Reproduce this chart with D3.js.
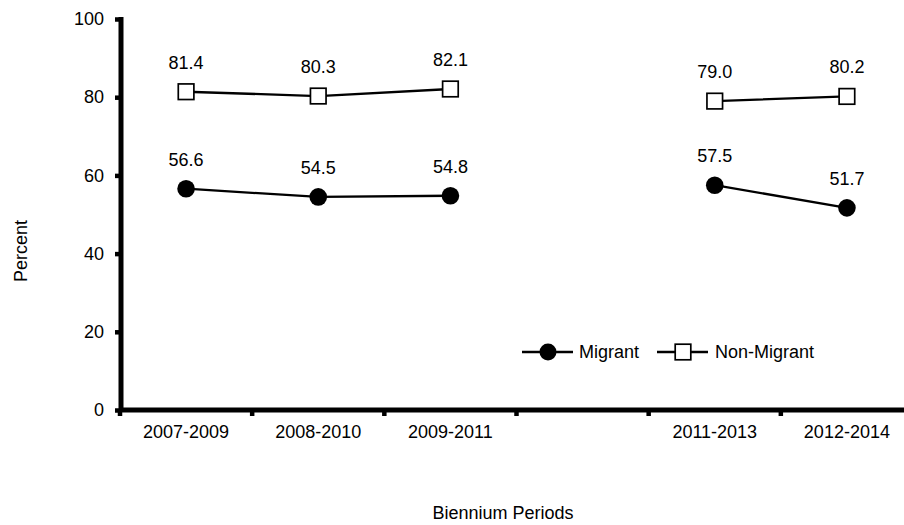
<!DOCTYPE html>
<html><head><meta charset="utf-8">
<script src="https://cdn.jsdelivr.net/npm/d3@7/dist/d3.min.js"></script>
<style>
body{margin:0;background:#fff;}
text{font-family:"Liberation Sans",Arial,sans-serif;font-size:18px;fill:#000;}
</style></head>
<body><svg id="c" width="904" height="525"></svg>
<script>
const categories = ["2007-2009","2008-2010","2009-2011","","2011-2013","2012-2014"];
const migrant    = [56.6, 54.5, 54.8, null, 57.5, 51.7];
const nonMigrant = [81.4, 80.3, 82.1, null, 79.0, 80.2];
const yTicks = [0,20,40,60,80,100];
const seriesNames = ["Migrant","Non-Migrant"];

const svg = d3.select("#c");
const x = d3.scaleBand().domain(categories.map((c,i)=>i)).range([120,913]).padding(0);
const y = d3.scaleLinear().domain([0,100]).range([410,19]);
const cx = i => x(i) + x.bandwidth()/2;

// y axis
const yAx = svg.append("g").attr("transform","translate(121,0)")
  .call(d3.axisLeft(y).tickValues(yTicks).tickSize(6).tickPadding(11));
yAx.select(".domain").remove();
yAx.selectAll(".tick line").attr("stroke","#000").attr("stroke-width",4.5);
yAx.selectAll(".tick text").attr("font-size",18).attr("font-family","Liberation Sans, Arial, sans-serif").attr("fill","#000");
svg.append("line").attr("x1",121).attr("x2",121).attr("y1",y(100)-2).attr("y2",y(0)+2)
  .attr("stroke","#000").attr("stroke-width",5);

// x axis
const bounds = d3.range(categories.length+1).map(i => i < categories.length ? x(i) : x(categories.length-1)+x.bandwidth());
svg.selectAll(".xt").data(bounds).join("line").attr("class","xt")
  .attr("x1",d=>d).attr("x2",d=>d).attr("y1",y(0)).attr("y2",y(0)+6)
  .attr("stroke","#000").attr("stroke-width",4.5);
svg.append("line").attr("x1",119).attr("x2",913).attr("y1",y(0)).attr("y2",y(0))
  .attr("stroke","#000").attr("stroke-width",5);
svg.selectAll(".xl").data(categories).join("text").attr("class","xl")
  .attr("x",(d,i)=>cx(i)).attr("y",438).attr("text-anchor","middle").text(d=>d);

// titles
svg.append("text").attr("x",503).attr("y",519).attr("text-anchor","middle").text("Biennium Periods");
svg.append("text").attr("transform","translate(27,251) rotate(-90)").attr("text-anchor","middle").text("Percent");

// lines
const line = d3.line().defined(d=>d!=null).x((d,i)=>cx(i)).y(d=>y(d));
function drawLine(vals){
  svg.append("path").datum(vals).attr("d",line).attr("fill","none").attr("stroke","#000").attr("stroke-width",2.3);
}
drawLine(migrant);
drawLine(nonMigrant);

// markers
const pts = (vals) => vals.map((v,i)=>({v,i})).filter(d=>d.v!=null);
svg.selectAll(".mc").data(pts(migrant)).join("circle").attr("class","mc")
  .attr("cx",d=>cx(d.i)).attr("cy",d=>y(d.v)).attr("r",8.8).attr("fill","#000");
svg.selectAll(".ms").data(pts(nonMigrant)).join("rect").attr("class","ms")
  .attr("x",d=>cx(d.i)-7.8).attr("y",d=>y(d.v)-7.8).attr("width",15.6).attr("height",15.6)
  .attr("fill","#fff").attr("stroke","#000").attr("stroke-width",1.7);

// data labels
[migrant,nonMigrant].forEach(vals=>{
  svg.selectAll(null).data(pts(vals)).join("text")
    .attr("x",d=>cx(d.i)).attr("y",d=>y(d.v)-23).attr("text-anchor","middle")
    .text(d=>d.v.toFixed(1));
});

// legend
const lg = svg.append("g");
lg.append("line").attr("x1",522).attr("x2",573).attr("y1",352).attr("y2",352).attr("stroke","#000").attr("stroke-width",2.3);
lg.append("circle").attr("cx",548).attr("cy",352).attr("r",8.5).attr("fill","#000");
lg.append("text").attr("x",579).attr("y",358).text(seriesNames[0]);
lg.append("line").attr("x1",657).attr("x2",708).attr("y1",352).attr("y2",352).attr("stroke","#000").attr("stroke-width",2.3);
lg.append("rect").attr("x",683-7.8).attr("y",352-7.8).attr("width",15.6).attr("height",15.6).attr("fill","#fff").attr("stroke","#000").attr("stroke-width",1.7);
lg.append("text").attr("x",715).attr("y",358).text(seriesNames[1]);
</script></body></html>
